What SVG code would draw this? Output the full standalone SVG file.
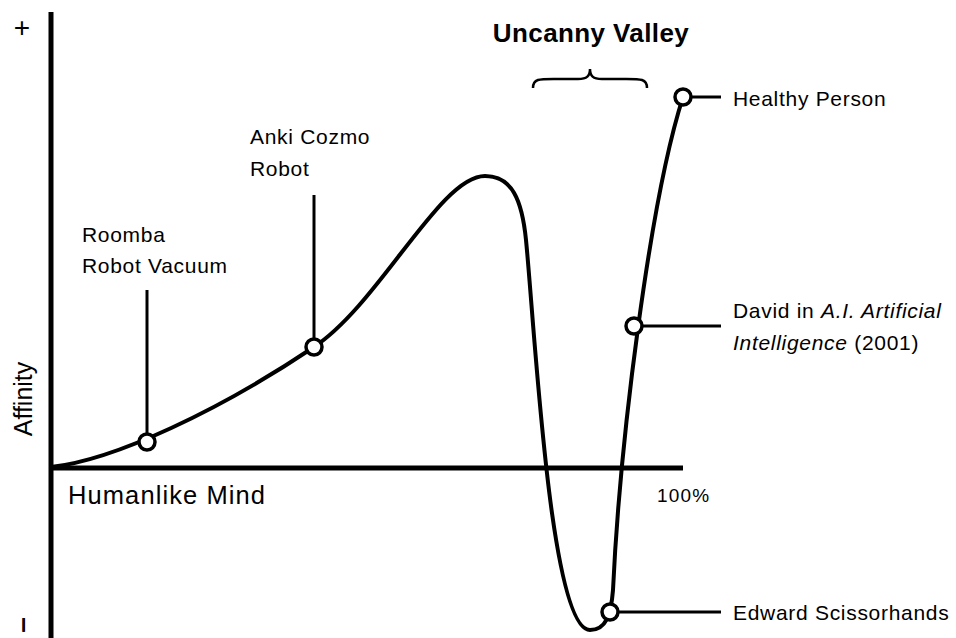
<svg xmlns="http://www.w3.org/2000/svg" width="956" height="638" viewBox="0 0 956 638">
<style>
.t{font-family:"Liberation Sans",Arial,sans-serif;fill:#000;}
.lbl{font-size:21px;letter-spacing:0.7px;}
.ax{stroke:#000;stroke-width:5;fill:none;}
.crv{stroke:#000;stroke-width:4;fill:none;stroke-linecap:round;}
.ld{stroke:#000;stroke-width:3;fill:none;}
.pt{fill:#fff;stroke:#000;stroke-width:3.5;}
</style>
<rect width="956" height="638" fill="#fff"/>
<g id="axes">
<line class="ax" x1="51" y1="12" x2="51" y2="638"/>
<line class="ax" x1="49" y1="468" x2="683" y2="468"/>
<text class="t" x="22" y="37" font-size="28" text-anchor="middle">+</text>
<text class="t" font-size="28" font-weight="bold" text-anchor="middle" transform="translate(31,625) rotate(-90)">–</text>
<text class="t" font-size="25" text-anchor="middle" transform="translate(32,399) rotate(-90)">Affinity</text>
<text class="t" x="68" y="504" font-size="25.5" textLength="197" lengthAdjust="spacing">Humanlike Mind</text>
<text class="t" x="657" y="502" font-size="19" letter-spacing="1.2">100%</text>
</g>
<g id="valley-title">
<text class="t" x="591" y="42" font-size="26" font-weight="bold" letter-spacing="0.4" text-anchor="middle">Uncanny Valley</text>
<path d="M533,88 C533,78 540,79 560,79 L578,79 C587,79 590,76 590,69 C590,76 593,79 602,79 L620,79 C640,79 647,78 647,88" stroke="#000" stroke-width="2.5" fill="none"/>
</g>
<g id="connectors">
<path class="crv" d="M51,467 C115,460 220,410 314,347 C380,303 440,176 485,176 C512,176 522,200 526,240 C535,330 550,630 590,630 C606,630 611,615 613,590 C620,440 650,200 683,97"/>
<line class="ld" x1="147" y1="290" x2="147" y2="436"/>
<line class="ld" x1="314" y1="195" x2="314" y2="340"/>
<line class="ld" x1="690" y1="97" x2="721" y2="97"/>
<line class="ld" x1="641" y1="326" x2="721" y2="326"/>
<line class="ld" x1="617" y1="612" x2="721" y2="612"/>
</g>
<g id="roomba">
<circle class="pt" cx="147" cy="442" r="8"/>
<text class="t lbl" x="82" y="242">Roomba</text>
<text class="t lbl" x="82" y="273">Robot Vacuum</text>
</g>
<g id="anki">
<circle class="pt" cx="314" cy="347" r="8"/>
<text class="t lbl" x="250" y="144">Anki Cozmo</text>
<text class="t lbl" x="250" y="176">Robot</text>
</g>
<g id="healthy">
<circle class="pt" cx="683" cy="97" r="8"/>
<text class="t lbl" x="733" y="106">Healthy Person</text>
</g>
<g id="david">
<circle class="pt" cx="634" cy="326" r="8"/>
<text class="t lbl" x="733" y="318">David in <tspan font-style="italic">A.I. Artificial</tspan></text>
<text class="t lbl" x="733" y="350"><tspan font-style="italic">Intelligence</tspan> (2001)</text>
</g>
<g id="edward">
<circle class="pt" cx="610" cy="612" r="8"/>
<text class="t lbl" x="733" y="620">Edward Scissorhands</text>
</g>
</svg>
